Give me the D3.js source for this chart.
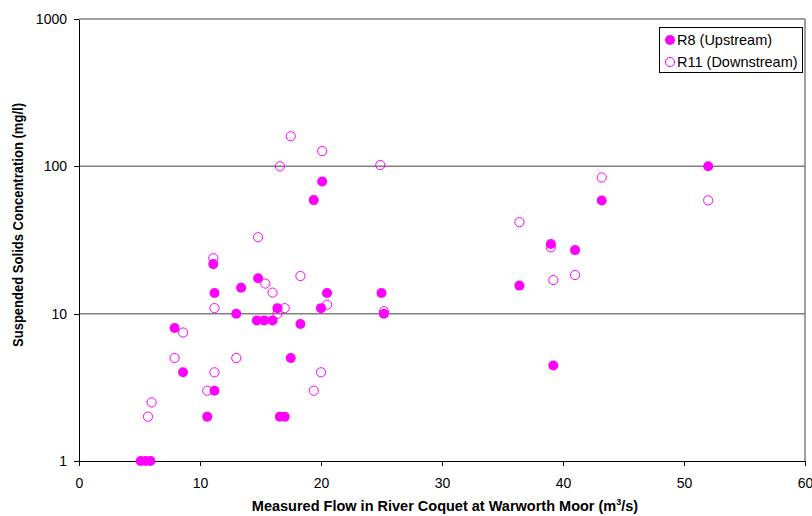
<!DOCTYPE html>
<html>
<head>
  <meta charset="utf-8">
  <style>
    body { margin: 0; background: #fff; }
    text { font-family: "Liberation Sans", Arial, sans-serif; }
    .axis path, .axis line { stroke: #000; shape-rendering: crispEdges; }
    .grid line { stroke: #808080; stroke-width: 1.5px; }
  </style>
  <script src="https://d3js.org/d3.v7.min.js"></script>
</head>
<body>
  <div id="graph"></div>
  <script>
    // R8 (Upstream) - filled markers
    var r8Flow = [5.1, 5.5, 5.9, 7.9, 8.6, 10.6, 11.2, 11.2, 11.1, 13.0, 13.4, 14.8, 14.7, 15.3, 16.0, 16.4,
                  18.3, 17.5, 16.6, 17.0, 19.4, 20.1, 20.0, 20.5, 25.0, 25.2, 36.4, 39.0, 39.2, 41.0, 43.2, 52.0];
    var r8Conc = [1, 1, 1, 8, 4, 2, 3, 13.8, 21.7, 10, 15, 17.4, 9, 9, 9, 10.9,
                  8.5, 5, 2, 2, 59, 79, 10.9, 13.8, 13.8, 10, 15.5, 29.7, 4.45, 27, 58.7, 100];

    // R11 (Downstream) - open markers
    var r11Flow = [5.7, 6.0, 7.9, 8.6, 10.6, 11.2, 11.2, 11.1, 13.0, 14.8, 15.4, 16.0, 16.4, 16.6, 17.0,
                   17.5, 18.3, 19.4, 20.0, 20.1, 20.5, 24.9, 25.2, 36.4, 39.0, 39.2, 41.0, 43.2, 52.0];
    var r11Conc = [2, 2.5, 5, 7.45, 3, 4, 10.9, 23.8, 5, 33, 16, 13.9, 10, 100, 10.9,
                   160, 18, 3, 4, 127, 11.5, 102, 10.4, 41.8, 28.2, 16.9, 18.3, 84, 58.7];

    var xTicks = [0, 10, 20, 30, 40, 50, 60];
    var yTicks = [1, 10, 100, 1000];
    var legendLabels = ["R8 (Upstream)", "R11 (Downstream)"];

    var col = "#ff00ff";
    var margin = { top: 19, right: 7, bottom: 55, left: 79 };
    var W = 812, H = 516;
    var width = W - margin.left - margin.right;
    var height = H - margin.top - margin.bottom;

    var svg = d3.select("#graph").append("svg")
      .attr("width", W)
      .attr("height", H)
      .append("g")
      .attr("transform", "translate(" + margin.left + "," + margin.top + ")");

    var x = d3.scaleLinear().domain([0, 60]).range([0, width]);
    var y = d3.scaleLog().domain([1, 1000]).range([height, 0]);

    // gridlines
    svg.append("g").attr("class", "grid")
      .selectAll("line").data(yTicks.slice(1)).enter().append("line")
      .attr("x1", 0).attr("x2", width)
      .attr("y1", d => y(d)).attr("y2", d => y(d));

    // right border
    svg.append("line")
      .attr("x1", width).attr("x2", width)
      .attr("y1", y(1000)).attr("y2", height)
      .attr("stroke", "#808080").attr("stroke-width", 1.5);

    var xAxis = d3.axisBottom(x).tickValues(xTicks).tickSize(5).tickSizeOuter(0);
    var yAxis = d3.axisLeft(y).tickValues(yTicks).tickFormat(d3.format("d")).tickSize(5).tickSizeOuter(0);

    svg.append("g").attr("class", "x axis")
      .attr("transform", "translate(0," + height + ")")
      .call(xAxis)
      .selectAll("text").attr("font-size", 14).attr("dy", 19);

    svg.append("g").attr("class", "y axis")
      .call(yAxis)
      .selectAll("text").attr("font-size", 14).attr("x", -12);

    svg.selectAll(".axis text").attr("font-family", "Liberation Sans, Arial, sans-serif").attr("fill", "#000");

    var r8 = r8Flow.map((f, i) => ({ x: f, y: r8Conc[i] }));
    var r11 = r11Flow.map((f, i) => ({ x: f, y: r11Conc[i] }));

    svg.append("g").selectAll("circle").data(r11).enter().append("circle")
      .attr("cx", d => x(d.x)).attr("cy", d => y(d.y))
      .attr("r", 4.6)
      .attr("fill", "none").attr("stroke", col).attr("stroke-width", 1);

    svg.append("g").selectAll("circle").data(r8).enter().append("circle")
      .attr("cx", d => x(d.x)).attr("cy", d => y(d.y))
      .attr("r", 5)
      .attr("fill", col);

    // axis titles
    var xt = svg.append("text")
      .attr("x", 445 - margin.left).attr("y", height + 50)
      .attr("text-anchor", "middle")
      .attr("font-size", 14.5).attr("font-weight", "bold")
      .text("Measured Flow in River Coquet at Warworth Moor (m");
    xt.append("tspan").attr("font-size", 9).attr("dy", -6).text("3");
    xt.append("tspan").attr("dy", 6).text("/s)");

    svg.append("text")
      .attr("transform", "translate(" + (23 - margin.left) + "," + (225 - margin.top) + ") rotate(-90)")
      .attr("text-anchor", "middle")
      .attr("font-size", 14.5).attr("font-weight", "bold")
      .attr("textLength", 244).attr("lengthAdjust", "spacingAndGlyphs")
      .text("Suspended Solids Concentration (mg/l)");

    // legend
    var lg = svg.append("g").attr("transform", "translate(" + (659 - margin.left) + "," + (27 - margin.top) + ")");
    lg.append("rect").attr("width", 143).attr("height", 45)
      .attr("fill", "#fff").attr("stroke", "#000").attr("stroke-width", 1)
      .attr("shape-rendering", "crispEdges");
    legendLabels.forEach(function(lab, i) {
      var g = lg.append("g").attr("transform", "translate(0," + (13 + i * 22) + ")");
      g.append("circle").attr("cx", 11).attr("cy", 0)
        .attr("r", i == 0 ? 5 : 4.6)
        .attr("fill", i == 0 ? col : "none")
        .attr("stroke", i == 0 ? "none" : col);
      g.append("text").attr("x", 18).attr("y", 0).attr("dy", "0.35em")
        .attr("font-size", 14.5).text(lab);
    });
  </script>
</body>
</html>
